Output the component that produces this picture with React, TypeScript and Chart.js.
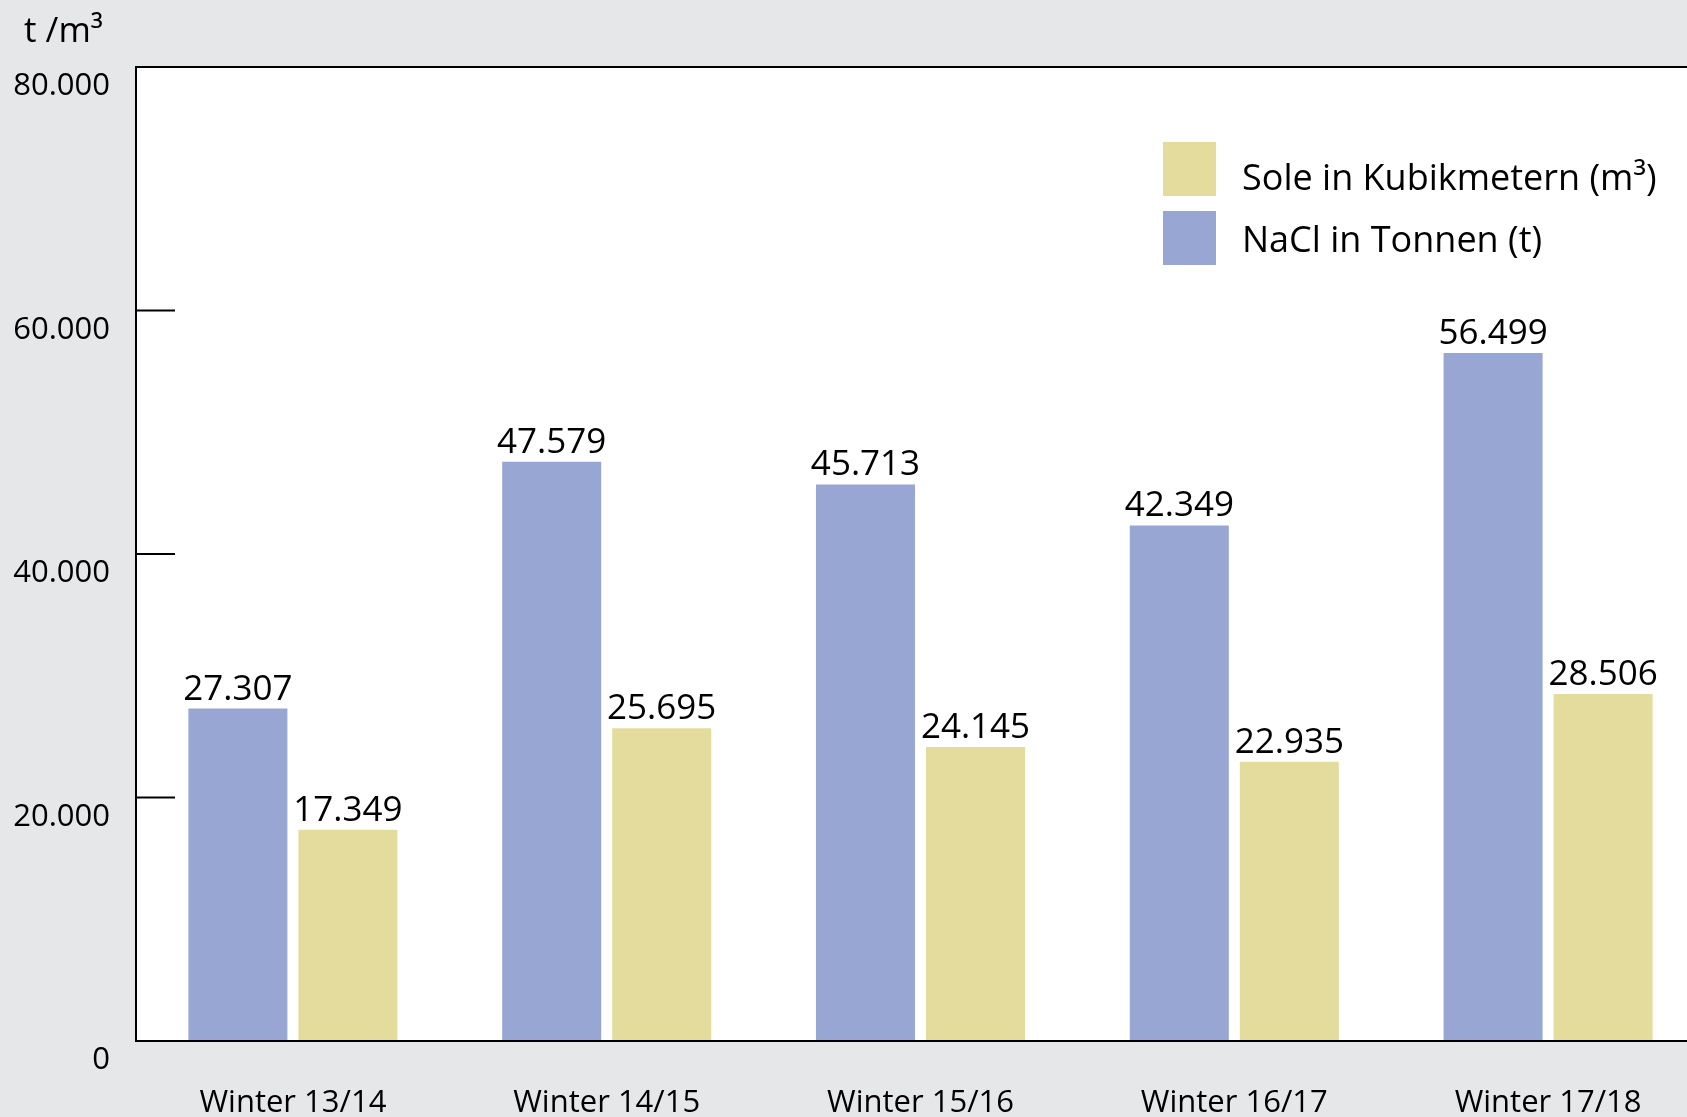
import React, { useEffect, useRef } from "react";
import { Chart, registerables } from "chart.js";

Chart.register(...registerables);

const categories = ["Winter 13/14", "Winter 14/15", "Winter 15/16", "Winter 16/17", "Winter 17/18"];
const naclValues = [27307, 47579, 45713, 42349, 56499];
const soleValues = [17349, 25695, 24145, 22935, 28506];
const yTicks = [0, 20000, 40000, 60000, 80000];
const naclLabel = "NaCl in Tonnen (t)";
const soleLabel = "Sole in Kubikmetern (m³)";
const axisTitle = "t /m³";

const BLUE = "rgb(152,166,212)";
const YELLOW = "rgb(227,220,156)";
const GRAY = "#e6e7e9";
const FONT = "'Open Sans', 'Noto Sans', sans-serif";

const fmt = (n: number) => String(n).replace(/\B(?=(\d{3})+(?!\d))/g, ".");

const CANVAS_W = 1720;
const CANVAS_H = 1117;

const customPlugin = {
  id: "customDraw",
  beforeDraw(chart: any) {
    const { ctx, chartArea } = chart;
    ctx.save();
    ctx.fillStyle = GRAY;
    ctx.fillRect(0, 0, chart.width, chart.height);
    ctx.fillStyle = "#ffffff";
    ctx.fillRect(chartArea.left, chartArea.top, chart.width - chartArea.left, chartArea.bottom - chartArea.top);
    ctx.restore();
  },
  afterDatasetsDraw(chart: any) {
    const { ctx, chartArea } = chart;
    const { left, top, bottom } = chartArea;
    const x = chart.scales.x;
    const y = chart.scales.y;
    ctx.save();

    // axis lines
    ctx.strokeStyle = "#000";
    ctx.lineWidth = 2;
    ctx.beginPath();
    ctx.moveTo(left, top);
    ctx.lineTo(chart.width, top);
    ctx.moveTo(left, top - 1);
    ctx.lineTo(left, bottom + 1);
    ctx.moveTo(left, bottom);
    ctx.lineTo(chart.width, bottom);
    ctx.stroke();

    // inner tick marks
    ctx.beginPath();
    yTicks.forEach((v) => {
      if (v === 0 || v === 80000) return;
      const py = y.getPixelForValue(v);
      ctx.moveTo(left, py);
      ctx.lineTo(left + 39, py);
    });
    ctx.stroke();

    ctx.fillStyle = "#000";
    // y tick labels
    ctx.font = `31px ${FONT}`;
    ctx.textAlign = "right";
    ctx.textBaseline = "alphabetic";
    yTicks.forEach((v) => {
      const py = y.getPixelForValue(v);
      ctx.fillText(fmt(v), 110, py + 28);
    });

    // x labels
    ctx.font = `31px ${FONT}`;
    ctx.textAlign = "center";
    categories.forEach((c, i) => {
      ctx.fillText(c, x.getPixelForValue(i), bottom + 71);
    });

    // bar value labels
    ctx.font = `35px ${FONT}`;
    chart.data.datasets.forEach((ds: any, di: number) => {
      const meta = chart.getDatasetMeta(di);
      meta.data.forEach((bar: any, i: number) => {
        ctx.fillText(fmt(ds.data[i]), bar.x, bar.y - 9);
      });
    });

    // legend (Sole first, then NaCl)
    const legendItems = [
      { label: chart.data.datasets[1].label, color: chart.data.datasets[1].backgroundColor, top: 142, base: 190 },
      { label: chart.data.datasets[0].label, color: chart.data.datasets[0].backgroundColor, top: 211, base: 252 },
    ];
    ctx.font = `36px ${FONT}`;
    ctx.textAlign = "left";
    legendItems.forEach((it) => {
      ctx.fillStyle = it.color;
      ctx.fillRect(1163, it.top, 53, 54);
      ctx.fillStyle = "#000";
      ctx.fillText(it.label, 1242, it.base);
    });

    // axis title
    ctx.font = `35px ${FONT}`;
    ctx.fillText(axisTitle, 24, 42);

    ctx.restore();
  },
};

export default function App() {
  const ref = useRef<HTMLCanvasElement | null>(null);
  useEffect(() => {
    if (!ref.current) return;
    const chart = new Chart(ref.current, {
      type: "bar",
      data: {
        labels: categories,
        datasets: [
          { label: naclLabel, data: naclValues, backgroundColor: BLUE, categoryPercentage: 0.7012, barPercentage: 0.9 },
          { label: soleLabel, data: soleValues, backgroundColor: YELLOW, categoryPercentage: 0.7012, barPercentage: 0.9 },
        ],
      },
      options: {
        animation: false,
        responsive: false,
        devicePixelRatio: 1,
        layout: { padding: { left: 136, right: CANVAS_W - 1705, top: 67, bottom: CANVAS_H - 1041 } },
        scales: {
          x: { display: false },
          y: { display: false, min: 0, max: 80000 },
        },
        plugins: { legend: { display: false }, tooltip: { enabled: false } },
      },
      plugins: [customPlugin],
    });
    return () => chart.destroy();
  }, []);
  return (
    <div style={{ position: "absolute", left: 0, top: 0, width: 1687, height: 1117, overflow: "hidden", background: GRAY }}>
      <canvas ref={ref} width={CANVAS_W} height={CANVAS_H} style={{ display: "block", width: CANVAS_W, height: CANVAS_H }} />
    </div>
  );
}
